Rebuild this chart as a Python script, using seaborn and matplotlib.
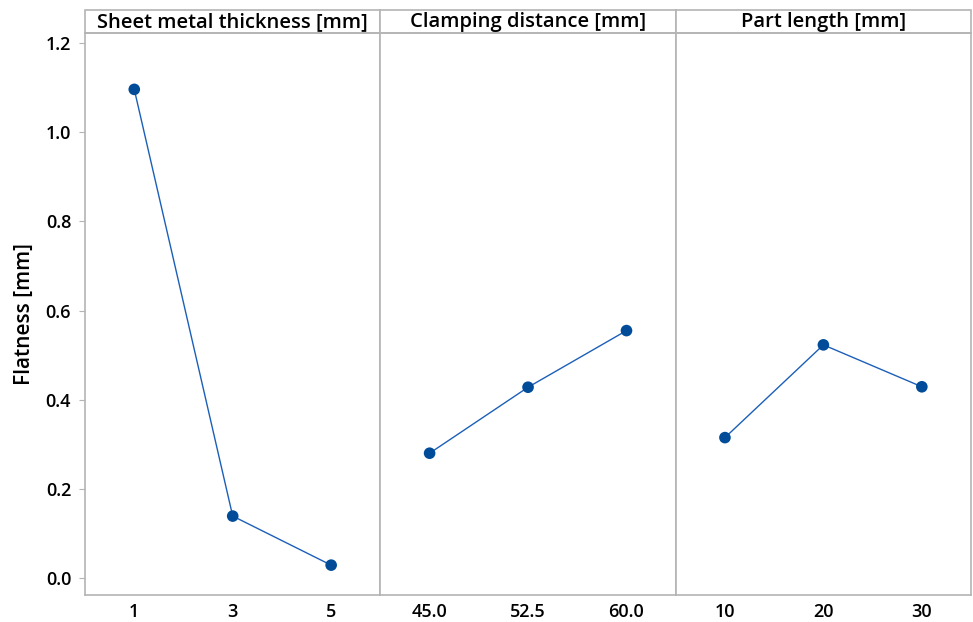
import pandas as pd
import matplotlib.pyplot as plt
import seaborn as sns
from matplotlib.patches import Rectangle

# Main effects data
factors = ["Sheet metal thickness [mm]", "Clamping distance [mm]", "Part length [mm]"]
levels = [["1", "3", "5"], ["45.0", "52.5", "60.0"], ["10", "20", "30"]]
flatness = [[1.096, 0.139, 0.029], [0.280, 0.428, 0.555], [0.315, 0.523, 0.429]]

sns.set_style("white")
plt.rcParams["font.family"] = ["Open Sans", "DejaVu Sans"]
plt.rcParams["text.color"] = "black"
plt.rcParams["xtick.color"] = "black"
plt.rcParams["ytick.color"] = "black"
plt.rcParams["axes.labelcolor"] = "black"

fig, axes = plt.subplots(1, 3, figsize=(9.73, 6.22), dpi=100, sharey=True)
fig.subplots_adjust(left=0.0874, right=0.998, bottom=0.0434, top=0.947, wspace=0)

grey = "#B4B4B4"
for ax, name, lv, vals in zip(axes, factors, levels, flatness):
    df = pd.DataFrame({"level": lv, "value": vals})
    sns.lineplot(x=range(len(lv)), y=df["value"], ax=ax, color="#1C5FB8", linewidth=1)
    sns.scatterplot(x=range(len(lv)), y=df["value"], ax=ax, color="#004C99",
                    s=70, edgecolor="none", zorder=3)
    ax.set_xlim(-0.5, len(lv) - 0.5)
    ax.set_xticks(range(len(lv)))
    ax.set_xticklabels(lv, fontweight="semibold")
    ax.set_xlabel("")
    ax.set_ylabel("")
    for s in ax.spines.values():
        s.set_color(grey)
        s.set_linewidth(1.2)
    ax.tick_params(axis="x", length=0, pad=6, labelsize=13)
    # header strip
    ax.add_patch(Rectangle((0, 1), 1, 0.041, transform=ax.transAxes, clip_on=False,
                           facecolor="white", edgecolor=grey, linewidth=1.2))
    ax.text(0.5, 1.0195, name, transform=ax.transAxes, ha="center", va="center",
            fontsize=14.5, fontweight="semibold")

axes[0].set_ylim(-0.038, 1.2225)
axes[0].set_yticks([0.0, 0.2, 0.4, 0.6, 0.8, 1.0, 1.2])
axes[0].set_yticklabels(["0.0", "0.2", "0.4", "0.6", "0.8", "1.0", "1.2"], fontweight="semibold")
axes[0].tick_params(axis="y", left=True, length=4, color=grey, labelcolor="black",
                    labelsize=13, pad=6)
for ax in axes[1:]:
    ax.tick_params(axis="y", left=False)
axes[0].set_ylabel("Flatness [mm]", fontsize=15, fontweight="semibold", labelpad=8)

plt.savefig("out.png", dpi=100)
